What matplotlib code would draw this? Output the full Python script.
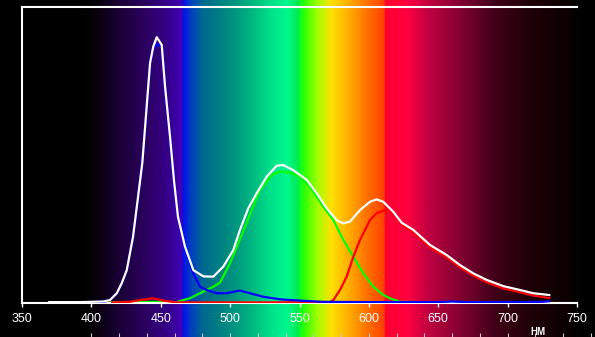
import numpy as np
import matplotlib
matplotlib.use("Agg")
import matplotlib.pyplot as plt
from matplotlib.colors import to_rgb

plt.rcParams['font.family'] = ['Liberation Sans', 'DejaVu Sans']

# spectrum background stops (wavelength, colour)
bg_nm = [334, 395, 405, 420, 440, 455, 465.5, 466, 472, 480, 493, 505, 516, 529, 541,
         544, 549.6, 550.0, 555, 563, 568, 573, 585, 599, 611.3, 611.7, 628, 643, 667,
         691, 715, 739, 755, 763]
bg_hex = ['#000000', '#000000', '#08000f', '#1a0035', '#2c0062', '#36008a', '#4000b8',
          '#0010ee', '#0040c0', '#006890', '#008080', '#009a80', '#00b880', '#00e088',
          '#00f890', '#00f478', '#00e850', '#00ff20', '#40ff00', '#a0ff00', '#d0f000',
          '#ffe000', '#ffb000', '#ff7000', '#ff4000', '#ff0030', '#ff0040', '#c00040',
          '#800030', '#400018', '#200008', '#100000', '#000000', '#000000']

# total (white)
w_nm = [369.7, 391.8, 408.4, 413.4, 418.3, 421.9, 425.5, 430.0, 436.7, 442.3, 444.6,
        447.1, 450.7, 453.1, 456.7, 459.5, 462.4, 467.5, 473.5, 480.7, 487.9, 495.1,
        502.3, 507.1, 513.1, 519.2, 526.4, 533.6, 538.3, 545.5, 555.2, 562.4, 569.6,
        576.8, 581.6, 586.4, 593.6, 600.8, 605.6, 610.4, 617.6, 623.7, 632.0, 644.1,
        656.1, 665.7, 675.3, 684.9, 696.9, 708.9, 718.5, 730.0]
w_val = [0.003, 0.003, 0.005, 0.010, 0.033, 0.067, 0.111, 0.223, 0.473, 0.811, 0.866,
         0.898, 0.872, 0.731, 0.561, 0.416, 0.291, 0.190, 0.111, 0.090, 0.089, 0.123,
         0.179, 0.247, 0.320, 0.371, 0.427, 0.464, 0.466, 0.449, 0.416, 0.371, 0.320,
         0.280, 0.269, 0.275, 0.314, 0.342, 0.350, 0.342, 0.308, 0.271, 0.247, 0.196,
         0.162, 0.128, 0.100, 0.078, 0.057, 0.044, 0.033, 0.027]

# blue channel
b_nm = [400.0, 408.4, 413.4, 418.3, 421.9, 425.5, 430.0, 436.7, 442.3, 444.6, 447.1,
        450.7, 453.1, 456.7, 459.5, 462.4, 468.7, 473.5, 478.3, 483.1, 490.3, 497.5,
        507.1, 514.3, 523.9, 535.9, 550.4, 567.0, 600.0, 650.0, 660.0, 670.0, 700.0,
        725.0, 730.0]
b_val = [0.003, 0.004, 0.009, 0.032, 0.066, 0.110, 0.222, 0.472, 0.808, 0.860, 0.875,
         0.865, 0.728, 0.558, 0.413, 0.288, 0.168, 0.100, 0.055, 0.044, 0.033, 0.033,
         0.042, 0.033, 0.021, 0.0125, 0.008, 0.004, 0.003, 0.003, 0.005, 0.003, 0.003,
         0.004, 0.006]

# green channel
g_nm = [396.6, 444.4, 461.5, 463.9, 471.1, 478.3, 487.9, 492.7, 499.9, 505.9, 513.1,
        521.5, 530.0, 535.9, 543.2, 550.4, 557.6, 567.2, 574.4, 581.6, 588.8, 596.0,
        603.2, 610.4, 615.2, 622.4, 650.0, 700.0, 730.0]
g_val = [0.002, 0.004, 0.003, 0.007, 0.016, 0.033, 0.055, 0.069, 0.134, 0.202, 0.286,
         0.382, 0.432, 0.444, 0.440, 0.427, 0.393, 0.325, 0.280, 0.213, 0.156, 0.100,
         0.055, 0.027, 0.016, 0.004, 0.002, 0.002, 0.003]

# red channel
r_nm = [415.0, 427.8, 435.0, 444.6, 451.8, 461.5, 520.0, 572.0, 574.4, 579.2, 584.0,
        588.8, 593.6, 600.8, 605.6, 611.6, 615.2, 620.0, 623.7, 632.0, 644.1, 656.1,
        665.7, 675.3, 684.9, 696.9, 708.9, 718.5, 730.0]
r_val = [0.002, 0.004, 0.010, 0.016, 0.008, 0.002, 0.002, 0.003, 0.010, 0.044, 0.089,
         0.156, 0.213, 0.280, 0.303, 0.314, 0.314, 0.290, 0.264, 0.240, 0.188, 0.154,
         0.120, 0.092, 0.070, 0.049, 0.036, 0.025, 0.017]

x_ticks = [350, 400, 450, 500, 550, 600, 650, 700, 750]

W, H = 595, 337
fig = plt.figure(figsize=(W / 100, H / 100), dpi=100, facecolor='black')

# spectrum background over the whole figure
left_nm = 350 - 22 / 1.3875
right_nm = 750 + (W - 577) / 1.3875
bg = fig.add_axes([0, 0, 1, 1], zorder=0)
grid = np.linspace(left_nm, right_nm, 1200)
rgb = np.array([to_rgb(c) for c in bg_hex])
img = np.stack([np.interp(grid, bg_nm, rgb[:, i]) for i in range(3)], axis=-1)
bg.imshow(img[np.newaxis, :, :], extent=[left_nm, right_nm, 0, 1], aspect='auto',
          interpolation='bilinear')
bg.set_xlim(left_nm, right_nm)
bg.set_ylim(0, 1)
for s in bg.spines.values():
    s.set_visible(False)
bg.set_yticks([])
bg.set_xticks(range(400, 761, 20))
bg.tick_params(axis='x', direction='in', length=3, width=0.8, color='#c8c8c8',
               labelbottom=False)

ax = fig.add_axes([22 / W, 34 / H, 555 / W, 296 / H], zorder=1)
ax.patch.set_visible(False)
ax.plot(g_nm, g_val, color='#00ff00', lw=1.6, zorder=2)
ax.plot(r_nm, r_val, color='#ff0000', lw=1.6, zorder=3)
ax.plot(b_nm, b_val, color='#0000ff', lw=1.6, zorder=4)
ax.plot(w_nm, w_val, color='white', lw=1.6, zorder=5)
ax.set_xlim(350, 750)
ax.set_ylim(0, 1)
ax.set_yticks([])
ax.set_xticks(x_ticks)
ax.tick_params(axis='x', colors='white', labelsize=9, length=3, width=1, pad=4)
for k in ['left', 'top', 'bottom']:
    ax.spines[k].set_color('white')
    ax.spines[k].set_linewidth(1.5)
ax.spines['right'].set_visible(False)

fig.text(538 / W, 1 - 332 / H, 'НМ', color='white', fontsize=7, fontweight='bold',
         ha='center', va='center')

fig.savefig('out.png', dpi=100, facecolor='black')
